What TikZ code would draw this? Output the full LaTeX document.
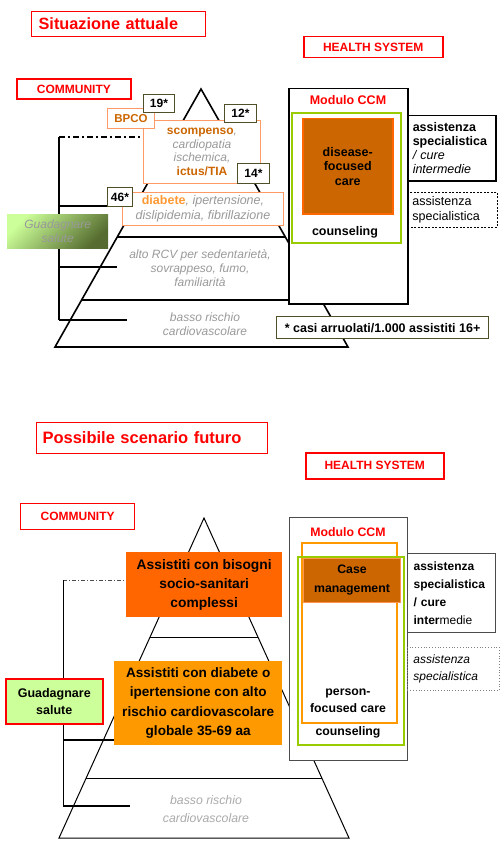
\documentclass[tikz,border=0pt]{standalone}
\usepackage{fontspec}
\setmainfont{Liberation Sans}
\usetikzlibrary{calc}
\pgfdeclarelayer{bg}
\pgfsetlayers{bg,main}
\definecolor{dorange}{HTML}{CC6600}
\definecolor{lorange}{HTML}{FF9966}
\definecolor{diabc}{HTML}{FF9933}
\definecolor{orangeB}{HTML}{FF9900}
\definecolor{orangeA}{HTML}{FF6600}
\definecolor{ygreen}{HTML}{99CC00}
\definecolor{olivec}{HTML}{4F4F28}
\definecolor{graytxt}{HTML}{999999}
\definecolor{lgraytxt}{HTML}{AAAAAA}
\definecolor{lgreen}{HTML}{CCFF99}
\definecolor{dgreen}{HTML}{556B2F}
\newcommand{\fs}[2]{\fontsize{#1}{#2}\selectfont}
\newcommand{\B}[7]{%
  \pgfmathsetmacro{\bw}{#4-#2}\pgfmathsetmacro{\bh}{#5-#3}%
  \node[anchor=north west, minimum width=\bw pt, minimum height=\bh pt, inner sep=0pt, #6] (#1) at (#2,#3) {#7};}
\tikzset{
  numbox/.style={draw=olivec, line width=1pt, fill=white, font=\fs{12}{14}\bfseries},
  redtitle/.style={draw=red, text=red},
  pyrtext/.style={font=\fs{12}{14}\itshape, text=graytxt, align=center, inner sep=0pt},
  ddash/.style={dash pattern=on 6pt off 3pt on 2pt off 3pt},
}
\begin{document}
\begin{tikzpicture}[x=1pt,y=-1pt]
\useasboundingbox (0,0) rectangle (501,864);

% ================= TOP =================
\B{t1}{31}{11}{205}{36}{redtitle, line width=1.2pt, font=\fs{16.3}{18}\bfseries, align=left, text width=160pt, inner xsep=7pt}{Situazione attuale}
\B{hs1}{303}{36}{442}{57}{redtitle, line width=1.5pt, font=\fs{12}{14}\bfseries}{HEALTH SYSTEM}
\B{cm1}{16}{78}{130}{98}{redtitle, line width=1.8pt, font=\fs{12}{14}\bfseries}{COMMUNITY}

\coordinate (k1) at (59,137);
\coordinate (k2) at (59,206);
\coordinate (k3) at (59,267);
\coordinate (k4) at (59,320);

\node[pyrtext] (rcv1) at (200,268) {alto RCV per sedentarietà,\\sovrappeso, fumo,\\familiarità};
\node[pyrtext] (br1) at (205,324) {basso rischio\\cardiovascolare};

\B{sc}{143}{120}{260}{183}{draw=lorange, line width=1pt, fill=white, align=center, font=\fs{12}{13.7}}{{\color{dorange}\bfseries scompenso}{\color{graytxt}\itshape ,}\\{\color{graytxt}\itshape cardiopatia}\\{\color{graytxt}\itshape ischemica,}\\{\color{dorange}\bfseries ictus/TIA}}
\B{db}{122}{192}{283}{225}{draw=lorange, line width=1pt, fill=white, align=center, font=\fs{12.5}{15}}{{\color{diabc}\bfseries diabete}{\color{graytxt}\itshape , ipertensione,}\\{\color{graytxt}\itshape dislipidemia, fibrillazione}}
\B{bp}{107}{108}{154}{128}{draw=lorange, line width=1pt, fill=white, text=dorange, font=\fs{11.5}{13}\bfseries}{BPCO}
\B{n19}{143}{94}{174}{112}{numbox}{19*}
\B{n12}{224}{104}{256}{122}{numbox}{12*}
\B{n14}{237}{163}{269}{183}{numbox}{14*}
\B{n46}{107}{187}{132}{206}{numbox}{46*}

\B{g1}{7}{214}{108}{248}{top color=lgreen, bottom color=dgreen, shading angle=45, font=\fs{12}{14}\itshape, text=graytxt, align=center}{Guadagnare\\salute}

\B{ccm1}{288}{88}{407}{303}{draw=black, line width=1.5pt, fill=white}{}
\node[text=red, font=\fs{12.5}{14}\bfseries] (ccmt1) at (348,100) {Modulo CCM};
\B{gr1}{291}{112}{400}{242}{draw=ygreen, line width=2pt}{}
\B{df1}{302}{118}{392}{213}{draw=orangeA, line width=1.5pt, fill=dorange, font=\fs{12.5}{14.5}\bfseries, align=center}{disease-\\focused\\care}
\node[font=\fs{12.5}{14}\bfseries] (cs1) at (345,232) {counseling};
\B{as1}{407}{115}{495}{180}{draw=black, line width=1.5pt, fill=white, align=left, text width=78pt, inner xsep=5pt, font=\fs{12.5}{14}}{\textbf{assistenza}\\\textbf{specialistica}\\\textit{/ cure}\\\textit{intermedie}}
\B{ds1}{407}{192}{497}{227}{draw=black, dash pattern=on 2pt off 1.5pt, line width=0.8pt, align=left, text width=80pt, inner xsep=5pt, font=\fs{12.5}{15}}{assistenza\\specialistica}
\B{nt1}{276}{316}{488}{338}{draw=olivec, line width=1.2pt, fill=white, font=\fs{12.5}{14}\bfseries}{* casi arruolati/1.000 assistiti 16+}

\begin{pgfonlayer}{bg}
  \draw[line width=1.6pt] (55,347) -- (201,89) -- (348,347) -- cycle;
  \draw[line width=1.3pt] ($(201,89)!0.5736!(55,347)$) -- ($(201,89)!0.5736!(348,347)$);
  \draw[line width=1.3pt] ($(201,89)!0.8178!(55,347)$) -- ($(201,89)!0.8178!(348,347)$);
  \draw[line width=2pt, ddash] (k1) -- (k1 -| sc.west);
  \draw[line width=1.3pt] (k1) -- (k4);
  \draw[line width=1.3pt] (k2) -- (k2 -| db.west);
  \draw[line width=1.5pt] (k3) -- ++(58,0);
  \draw[line width=2pt] (k4) -- ++(68,0);
\end{pgfonlayer}

% ================= BOTTOM =================
\B{t2}{36}{422}{267}{453}{redtitle, line width=1pt, font=\fs{16.5}{19}\bfseries, align=left, text width=219pt, inner xsep=6pt}{Possibile scenario futuro}
\B{hs2}{305}{452}{443}{478}{redtitle, line width=1.5pt, font=\fs{12}{14}\bfseries}{HEALTH SYSTEM}
\B{cm2}{20}{503}{134}{529}{redtitle, line width=1.2pt, font=\fs{12}{14}\bfseries}{COMMUNITY}

\coordinate (m1) at (63,580);
\coordinate (m2) at (63,740);
\coordinate (m3) at (63,806);

\node[pyrtext, text=lgraytxt, font=\fs{12.3}{18}\itshape] (br2) at (206,809) {basso rischio\\cardiovascolare};

\B{bA}{126}{552}{282}{617}{fill=orangeA, font=\fs{13.8}{19}\bfseries, align=center}{Assistiti con bisogni\\socio-sanitari\\complessi}
\B{bB}{114}{661}{282}{745}{fill=orangeB, font=\fs{13.6}{19.5}\bfseries, align=center}{Assistiti con diabete o\\ipertensione con alto\\rischio cardiovascolare\\globale 35-69 aa}
\B{g2}{5}{678}{102}{723}{fill=lgreen, draw=red, line width=1.5pt, font=\fs{12.5}{17}\bfseries, align=center}{Guadagnare\\salute}

\B{ccm2}{289}{517}{407}{760}{draw=black!70, line width=1.3pt, fill=white}{}
\node[text=red, font=\fs{12.3}{14}\bfseries] (ccmt2) at (348,532) {Modulo CCM};
\B{or2}{301}{542}{396}{722}{draw=orangeB, line width=1.5pt}{}
\B{gr2}{297}{556}{403}{744}{draw=ygreen, line width=2pt}{}
\B{cmg}{303}{558}{400}{602}{fill=dorange, draw=orangeA!70, line width=1pt, font=\fs{12.3}{19}\bfseries, align=center}{Case\\management}
\node[font=\fs{12.3}{17}\bfseries, align=center] (pf) at (348,700.5) {person-\\focused care};
\node[font=\fs{12.3}{14}\bfseries] (cs2) at (348,732) {counseling};
\B{as2}{407}{553}{495}{632}{draw=black!70, line width=1.2pt, fill=white, align=left, text width=76pt, inner xsep=6pt, font=\fs{12}{18}}{\textbf{assistenza}\\\textbf{specialistica}\\\textbf{/ cure}\\\textbf{inter}medie}
\B{ds2}{407}{647}{499}{690}{draw=black!50, dotted, line width=0.8pt, align=left, text width=80pt, inner xsep=6pt, font=\fs{12}{17}\itshape}{assistenza\\specialistica}

\begin{pgfonlayer}{bg}
  \draw[line width=1pt] (59,838) -- (204,518) -- (349,838) -- cycle;
  \draw[line width=1pt] ($(204,518)!0.3719!(59,838)$) -- ($(204,518)!0.3719!(349,838)$);
  \draw[line width=1pt] ($(204,518)!0.8125!(59,838)$) -- ($(204,518)!0.8125!(349,838)$);
  \draw[line width=0.8pt, black!70, dash pattern=on 4pt off 2pt on 1pt off 2pt] (m1) -- (m1 -| bA.west);
  \draw[line width=1pt] (m1) -- (m3);
  \draw[line width=2pt] (m2) -- (m2 -| bB.west);
  \draw[line width=2.5pt] (m3) -- ++(67,0);
  \draw[line width=1.5pt] ($(g2.north east)+(0,9)$) -- ($(g2.north east)+(0,9)$ -| bB.west);
\end{pgfonlayer}
\end{tikzpicture}
\end{document}
